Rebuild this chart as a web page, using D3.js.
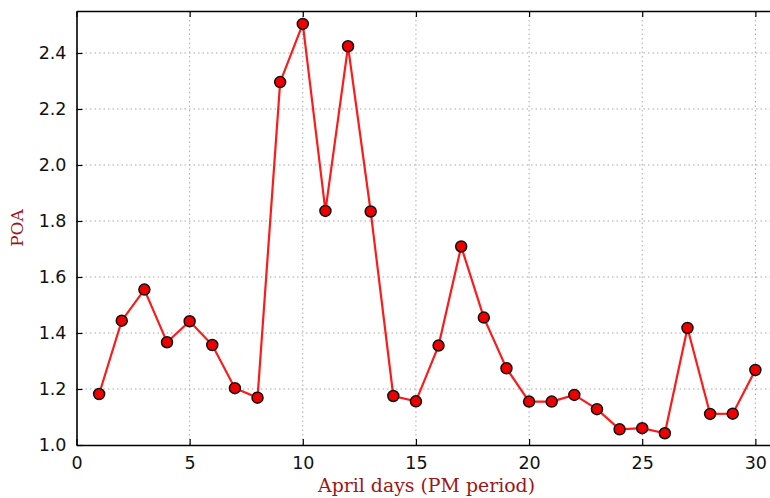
<!DOCTYPE html>
<html><head><meta charset="utf-8">
<script src="https://cdn.jsdelivr.net/npm/d3@7"></script>
<style>body{margin:0;background:#fff}svg{display:block}</style>
</head><body>
<script>
const days = d3.range(1, 31);
const poa = [1.182,1.444,1.555,1.367,1.442,1.357,1.203,1.169,2.296,2.504,
             1.836,2.424,1.834,1.175,1.156,1.355,1.709,1.455,1.274,1.155,
             1.155,1.179,1.128,1.056,1.060,1.042,1.418,1.111,1.112,1.268];
const xTicks = [0,5,10,15,20,25,30];
const yTicks = [1.0,1.2,1.4,1.6,1.8,2.0,2.2,2.4];
const xLabel = "April days (PM period)";
const yLabel = "POA";

const W = 770, H = 498;
const x = d3.scaleLinear().domain([0, 31]).range([76.5, 778]);
const y = d3.scaleLinear().domain([1.0, 2.55]).range([445, 11]);

const svg = d3.select("body").append("svg").attr("width", W).attr("height", H);

// grid
const grid = svg.append("g").attr("stroke", "#aaa").attr("stroke-width", 1).attr("stroke-dasharray", "1.5,3");
grid.selectAll(".gx").data(xTicks.filter(d => d > 0)).enter().append("line")
  .attr("x1", d => x(d)).attr("x2", d => x(d)).attr("y1", y.range()[1]).attr("y2", y.range()[0]);
grid.selectAll(".gy").data(yTicks.filter(d => d > 1.0)).enter().append("line")
  .attr("y1", d => y(d)).attr("y2", d => y(d)).attr("x1", x.range()[0]).attr("x2", W);

// axes
const xAxis = d3.axisBottom(x).tickValues(xTicks).tickFormat(d3.format("d")).tickSizeInner(-6).tickSizeOuter(0).tickPadding(12);
const gx = svg.append("g").attr("transform", `translate(0,${y.range()[0]})`).call(xAxis);
const yAxis = d3.axisLeft(y).tickValues(yTicks).tickFormat(d3.format(".1f")).tickSizeInner(-6).tickSizeOuter(0).tickPadding(10);
const gy = svg.append("g").attr("transform", `translate(${x.range()[0]},0)`).call(yAxis);
const xTop = d3.axisTop(x).tickValues(xTicks).tickFormat("").tickSizeInner(-6).tickSizeOuter(0);
const gt = svg.append("g").attr("transform", `translate(0,${y.range()[1]})`).call(xTop);
[gx, gy, gt].forEach(g => {
  g.select(".domain").attr("stroke", "#000").attr("stroke-width", 1.6);
  g.selectAll(".tick line").attr("stroke", "#000").attr("stroke-width", 1.2);
  g.selectAll("text").attr("font-family", "DejaVu Sans, sans-serif").attr("font-size", 17.5).attr("fill", "#111");
});

// line
svg.append("path").datum(days.map((d, i) => [d, poa[i]]))
  .attr("fill", "none").attr("stroke", "#ff1a1a").attr("stroke-width", 2.2)
  .attr("d", d3.line().x(d => x(d[0])).y(d => y(d[1])));
svg.selectAll(".pt").data(days.map((d, i) => [d, poa[i]])).enter().append("circle")
  .attr("cx", d => x(d[0])).attr("cy", d => y(d[1])).attr("r", 5.5)
  .attr("fill", "#ee0000").attr("stroke", "#111").attr("stroke-width", 1.5);

// labels
svg.append("text").attr("x", 426.5).attr("y", 492).attr("text-anchor", "middle")
  .attr("font-family", "DejaVu Serif, serif").attr("font-size", 18).attr("fill", "#a01515")
  .attr("textLength", 217).attr("lengthAdjust", "spacingAndGlyphs").text(xLabel);
svg.append("text").attr("transform", "translate(23,228) rotate(-90)").attr("text-anchor", "middle")
  .attr("font-family", "DejaVu Serif, serif").attr("font-size", 17).attr("fill", "#a01515").text(yLabel);
</script>
</body></html>
